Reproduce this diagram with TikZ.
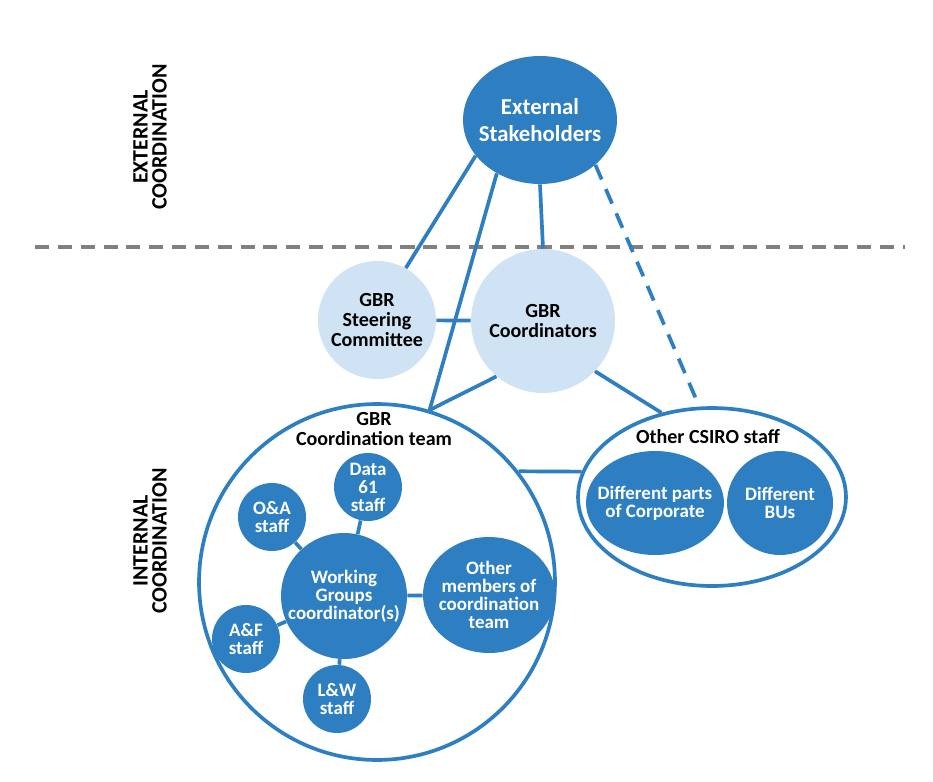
\documentclass[tikz,border=0pt]{standalone}
\usepackage{fontspec}
\setmainfont{Carlito}
\usetikzlibrary{shapes.geometric, positioning}
\definecolor{gbrblue}{RGB}{46,126,194}
\definecolor{gbrlight}{RGB}{208,227,244}
\definecolor{gbrgray}{RGB}{128,128,128}

\begin{document}
\begin{tikzpicture}[x=0.02cm, y=-0.02cm,
    every node/.style={font=\bfseries\fontsize{10.8}{10.2}\selectfont, align=center, inner sep=0pt},
    dark/.style={fill=gbrblue, text=white},
    light/.style={circle, fill=gbrlight, font=\bfseries\fontsize{11.4}{11.6}\selectfont},
    ring/.style={draw=gbrblue, line width=2.1pt},
    link/.style={gbrblue, line width=2.1pt},
    dashlink/.style={link, dash pattern=on 9pt off 6pt},
    staff/.style={circle, dark, minimum size=1.36cm},
    ttl/.style={font=\bfseries\fontsize{11.4}{11.6}\selectfont},
    side/.style={rotate=90, font=\bfseries\fontsize{12.5}{10.8}\selectfont}]
  \useasboundingbox (0,0) rectangle (933,781);

  % divider between the two levels
  \coordinate (divl) at (35,247);
  \coordinate (divr) at (905,247);
  \draw[gbrgray, line width=1.9pt, dash pattern=on 8pt off 5pt] (divl) -- (divr);
  \node[side] (extlbl) at (150,137) {EXTERNAL\\COORDINATION};
  \node[side] (intlbl) at (150,541) {INTERNAL\\COORDINATION};

  % external and top level
  \node[ellipse, dark, minimum width=3.08cm, minimum height=2.56cm] (es) at (540,120) {};
  \node[text=white, font=\bfseries\fontsize{13}{15.3}\selectfont] (estext) at (es) {External\\Stakeholders};
  \node[light, minimum size=2.36cm] (steer) at (377,320) {GBR\\Steering\\Committee};
  \node[light, minimum size=2.88cm] (coord) at (543,321) {GBR\\Coordinators};

  % coordination team
  \node[circle, ring, minimum size=7.12cm] (team) at (377,582) {};
  \node[ttl] (teamlbl) at (374,429) {GBR\\Coordination team};
  \node[circle, dark, minimum size=2.52cm] (wg) at (344,596) {Working\\Groups\\coordinator(s)};
  \node[staff] (data) at (368,487) {Data\\61\\staff};
  \node[staff] (oa) at (272,517) {O\&A\\staff};
  \node[staff] (af) at (246,639) {A\&F\\staff};
  \node[staff] (lw) at (337,699) {L\&W\\staff};
  \node[ellipse, dark, minimum width=2.64cm, minimum height=2.32cm] (oth) at (489,595) {};
  \node[text=white] (othtext) at (oth) {Other\\members of\\coordination\\team};

  % other CSIRO staff
  \node[ellipse, ring, minimum width=5.36cm, minimum height=3.56cm] (csiro) at (712,497) {};
  \node[ttl] (csirolbl) at (708,437) {Other CSIRO staff};
  \node[ellipse, dark, minimum width=2.76cm, minimum height=2.08cm] (corp) at (655,503) {};
  \node[text=white] (corptext) at (corp) {Different parts\\of Corporate};
  \node[ellipse, dark, minimum width=2.12cm, minimum height=2.08cm] (bus) at (780,503) {};
  \node[text=white] (bustext) at (bus) {Different\\BUs};

  \draw[link] (es.209) -- (steer.61);
  \draw[link] (es.231) -- (team.73);
  \draw[link] (es.south) -- (coord.north);
  \draw[dashlink] (es.-39) -- (csiro.98);
  \draw[link] (steer) -- (coord);
  \draw[link] (coord.230) -- (team.73);
  \draw[link] (coord.-44) -- (csiro.121);
  \draw[link] (team.38) -- (csiro.169);
  \draw[link] (wg) -- (data);
  \draw[link] (wg) -- (oa);
  \draw[link] (wg) -- (af);
  \draw[link] (wg) -- (lw);
  \draw[link] (wg) -- (oth);
\end{tikzpicture}
\end{document}
